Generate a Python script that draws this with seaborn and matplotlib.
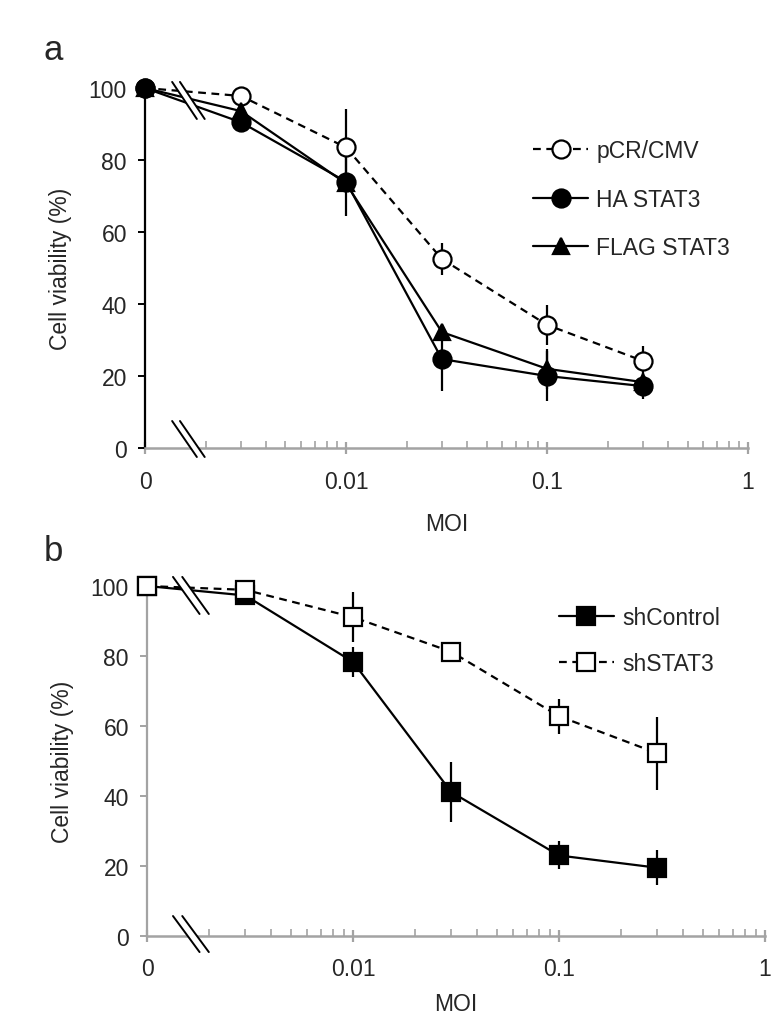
import numpy as np
import pandas as pd
import matplotlib
matplotlib.use("Agg")
import matplotlib.pyplot as plt
import matplotlib.ticker as mticker
from matplotlib.patches import Polygon
import seaborn as sns

# MOI 0 is drawn at the left edge of the log axis (0.001)
moi = [0, 0.003, 0.01, 0.03, 0.1, 0.3]
moi_zero_pos = 0.001

# panel a
pcr_cmv = [100, 97.8, 83.5, 52.5, 34.2, 24.2]
pcr_cmv_err = [0, 0, 10.7, 4.5, 5.5, 4.0]
ha_stat3 = [100, 90.5, 74.0, 24.7, 20.0, 17.2]
ha_stat3_err = [0, 0, 9.6, 9.0, 7.0, 3.5]
flag_stat3 = [100, 93.6, 73.5, 32.2, 22.0, 18.3]
flag_stat3_err = [0, 0, 0, 0, 5.5, 0]

# panel b
sh_control = [100, 97.3, 78.3, 41.1, 23.0, 19.5]
sh_control_err = [0, 0, 4.3, 8.5, 4.0, 5.0]
sh_stat3 = [100, 98.9, 91.1, 81.2, 62.8, 52.2]
sh_stat3_err = [0, 0, 7.2, 1.5, 5.0, 10.5]

x_ticks = [0.001, 0.01, 0.1, 1]
x_ticklabels = ["0", "0.01", "0.1", "1"]
y_ticks = [0, 20, 40, 60, 80, 100]

GRAY = "#a3a3a3"

sns.set_theme(style="white")
plt.rcParams["font.family"] = ["Liberation Sans", "DejaVu Sans"]


def to_frame(values, errs):
    x = [moi_zero_pos if m == 0 else m for m in moi]
    return pd.DataFrame({"moi": x, "viability": values, "err": errs})


def draw_series(ax, values, errs, label, marker, filled, dashed):
    df = to_frame(values, errs)
    ax.errorbar(df["moi"], df["viability"], yerr=df["err"], fmt="none",
                ecolor="black", elinewidth=1.6, capsize=0, zorder=2, clip_on=False)
    sns.lineplot(data=df, x="moi", y="viability", ax=ax, label=label,
                 color="black", lw=1.6, linestyle=(0, (3.5, 2.5)) if dashed else "-",
                 marker=marker, markersize=13 if marker != "^" else 12,
                 markerfacecolor="black" if filled else "white",
                 markeredgecolor="black", markeredgewidth=1.6,
                 zorder=3, clip_on=False)


def break_mark(ax, ytop, ybot, x0, dx, slant):
    # white gap + two slashes, all in axes fraction
    poly = Polygon([(x0, ytop), (x0 + dx, ytop), (x0 + dx + slant, ybot), (x0 + slant, ybot)],
                   closed=True, transform=ax.transAxes, facecolor="white",
                   edgecolor="none", zorder=5, clip_on=False)
    ax.add_patch(poly)
    for xs in (x0, x0 + dx):
        ax.plot([xs, xs + slant], [ytop, ybot], transform=ax.transAxes,
                color="black", lw=1.4, zorder=6, clip_on=False)


def style_axes(ax, left_color, xlabelpad):
    ax.set_xscale("log")
    ax.set_xlim(0.001, 1)
    ax.set_ylim(0, 100)
    sns.despine(ax=ax)
    ax.spines["left"].set_color(left_color)
    ax.spines["left"].set_linewidth(1.6)
    ax.spines["bottom"].set_color(GRAY)
    ax.spines["bottom"].set_linewidth(1.8)
    ax.xaxis.set_major_locator(mticker.FixedLocator(x_ticks))
    ax.xaxis.set_major_formatter(mticker.FixedFormatter(x_ticklabels))
    ax.xaxis.set_minor_locator(mticker.LogLocator(base=10, subs=np.arange(2, 10)))
    ax.xaxis.set_minor_formatter(mticker.NullFormatter())
    ax.set_yticks(y_ticks)
    ax.tick_params(axis="x", which="major", direction="inout", length=9, width=1.6,
                   color=GRAY, labelsize=16.5, pad=11, bottom=True)
    ax.tick_params(axis="x", which="minor", direction="in", length=5, width=1.2,
                   color=GRAY, bottom=True)
    ax.tick_params(axis="y", direction="out", length=5, width=1.4, color=left_color,
                   labelsize=16.5, pad=8, left=True)
    ax.set_xlabel("MOI", fontsize=16.5, labelpad=xlabelpad)
    ax.set_ylabel("Cell viability (%)", fontsize=16.5, labelpad=12)
    ax.patch.set_alpha(0)


fig = plt.figure(figsize=(7.8, 10.2), dpi=100)
ax_a = fig.add_axes([0.1859, 0.5598, 0.7731, 0.3529])
ax_b = fig.add_axes([0.1885, 0.0814, 0.7923, 0.3431])

# panel a
draw_series(ax_a, pcr_cmv, pcr_cmv_err, "pCR/CMV", "o", False, True)
draw_series(ax_a, ha_stat3, ha_stat3_err, "HA STAT3", "o", True, False)
draw_series(ax_a, flag_stat3, flag_stat3_err, "FLAG STAT3", "^", True, False)
style_axes(ax_a, "black", 14)
break_mark(ax_a, 1.017, 0.914, 0.045, 0.013, 0.041)
break_mark(ax_a, 0.075, -0.025, 0.045, 0.013, 0.041)
ax_a.legend(loc="upper left", bbox_to_anchor=(0.625, 0.89), frameon=False,
            fontsize=16.5, handlelength=2.4, handletextpad=0.35, labelspacing=1.12,
            borderpad=0)

# panel b
draw_series(ax_b, sh_control, sh_control_err, "shControl", "s", True, False)
draw_series(ax_b, sh_stat3, sh_stat3_err, "shSTAT3", "s", False, True)
style_axes(ax_b, GRAY, 8)
break_mark(ax_b, 1.026, 0.92, 0.042, 0.015, 0.043)
break_mark(ax_b, 0.057, -0.046, 0.042, 0.015, 0.043)
ax_b.legend(loc="upper left", bbox_to_anchor=(0.648, 0.975), frameon=False,
            fontsize=16.5, handlelength=2.4, handletextpad=0.35, labelspacing=1.0,
            borderpad=0)

fig.text(53 / 780, 1 - 50 / 1020, "a", fontsize=25, ha="center", va="center")
fig.text(53 / 780, 1 - 552 / 1020, "b", fontsize=25, ha="center", va="center")

fig.savefig("out.png", dpi=100)
